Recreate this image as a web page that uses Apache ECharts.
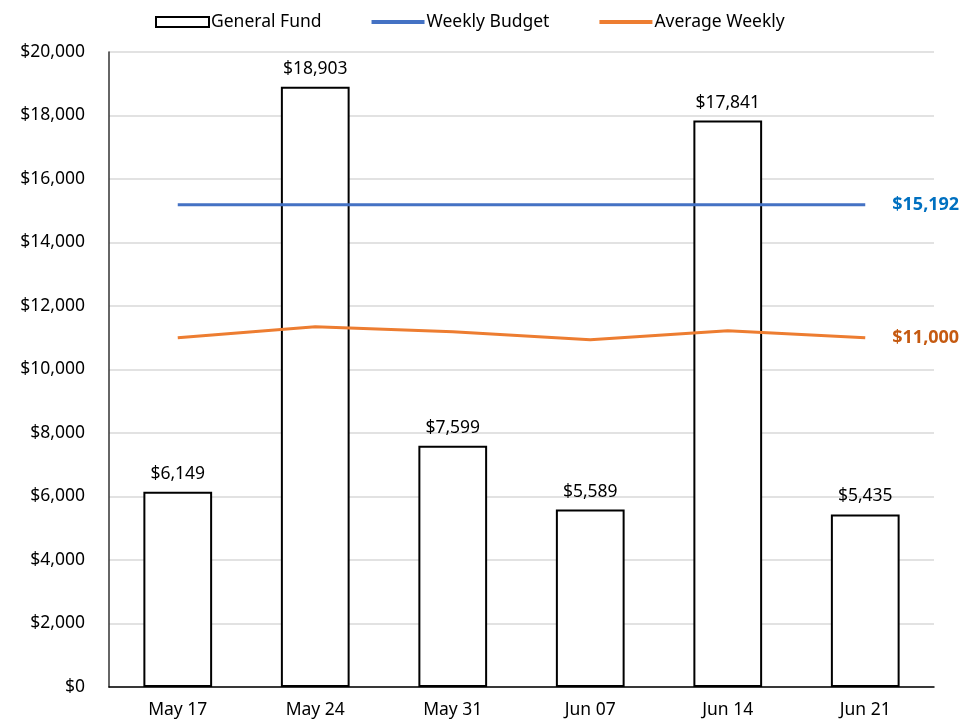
<!DOCTYPE html>
<html><head><meta charset="utf-8">
<script src="https://cdn.jsdelivr.net/npm/echarts@6/dist/echarts.min.js"></script>
<style>html,body{margin:0;padding:0;background:#fff}#c{width:961px;height:722px}</style>
</head><body><div id="c"></div>
<script>
const categories = ['May 17','May 24','May 31','Jun 07','Jun 14','Jun 21'];
const generalFund = [6149, 18903, 7599, 5589, 17841, 5435];
const weeklyBudget = [15192, 15192, 15192, 15192, 15192, 15192];
const averageWeekly = [11000, 11350, 11190, 10940, 11220, 11000];
const yTicks = {min: 0, max: 20000, interval: 2000};

const FONT = 'Noto Sans';
const FS = 17.5;
const money = v => '$' + Math.round(v).toLocaleString('en-US');
const chart = echarts.init(document.getElementById('c'));
chart.setOption({
  animation: false,
  textStyle: {fontFamily: FONT},
  grid: {left: 109, right: 27, top: 52, bottom: 35, containLabel: false},
  legend: {
    top: 8, left: 150, itemGap: 50, itemWidth: 53, itemHeight: 10,
    textStyle: {fontFamily: FONT, fontSize: 17.5, color: '#000', padding: [0,0,0,-3]},
    data: [
      {name: 'General Fund', icon: 'rect', itemStyle: {color: '#fff', borderColor: '#000', borderWidth: 2}},
      {name: 'Weekly Budget', icon: 'path://M0,0 L40,0 L40,3 L0,3 Z', itemStyle: {color: '#4472C4'}},
      {name: 'Average Weekly', icon: 'path://M0,0 L40,0 L40,3 L0,3 Z', itemStyle: {color: '#ED7D31'}}
    ]
  },
  xAxis: {
    type: 'category', data: categories,
    axisLine: {lineStyle: {color: '#000', width: 1.5}},
    axisTick: {show: false},
    axisLabel: {fontFamily: FONT, fontSize: FS, color: '#000', margin: 14}
  },
  yAxis: {
    type: 'value', min: yTicks.min, max: yTicks.max, interval: yTicks.interval,
    axisLine: {show: true, lineStyle: {color: '#333', width: 1.5}},
    axisTick: {show: false},
    splitLine: {lineStyle: {color: '#d9d9d9', width: 1.5}},
    axisLabel: {fontFamily: FONT, fontSize: FS, color: '#000', margin: 24, formatter: money}
  },
  series: [
    {
      name: 'General Fund', type: 'bar', data: generalFund, barCategoryGap: '50%',
      itemStyle: {color: '#fff', borderColor: '#000', borderWidth: 2},
      label: {show: true, position: 'top', distance: 9, fontFamily: FONT, fontSize: FS, color: '#000', formatter: p => money(p.value)}
    },
    {
      name: 'Weekly Budget', type: 'line', data: weeklyBudget, symbol: 'none',
      lineStyle: {color: '#4472C4', width: 3}, itemStyle: {color: '#4472C4'},
      endLabel: {show: true, distance: 27, fontFamily: FONT, fontSize: 18, fontWeight: 'bold', color: '#0070C0', formatter: p => money(p.value)}
    },
    {
      name: 'Average Weekly', type: 'line', data: averageWeekly, symbol: 'none',
      lineStyle: {color: '#ED7D31', width: 3}, itemStyle: {color: '#ED7D31'},
      endLabel: {show: true, distance: 27, fontFamily: FONT, fontSize: 18, fontWeight: 'bold', color: '#C55A11', formatter: p => money(p.value)}
    }
  ]
});
</script></body></html>
